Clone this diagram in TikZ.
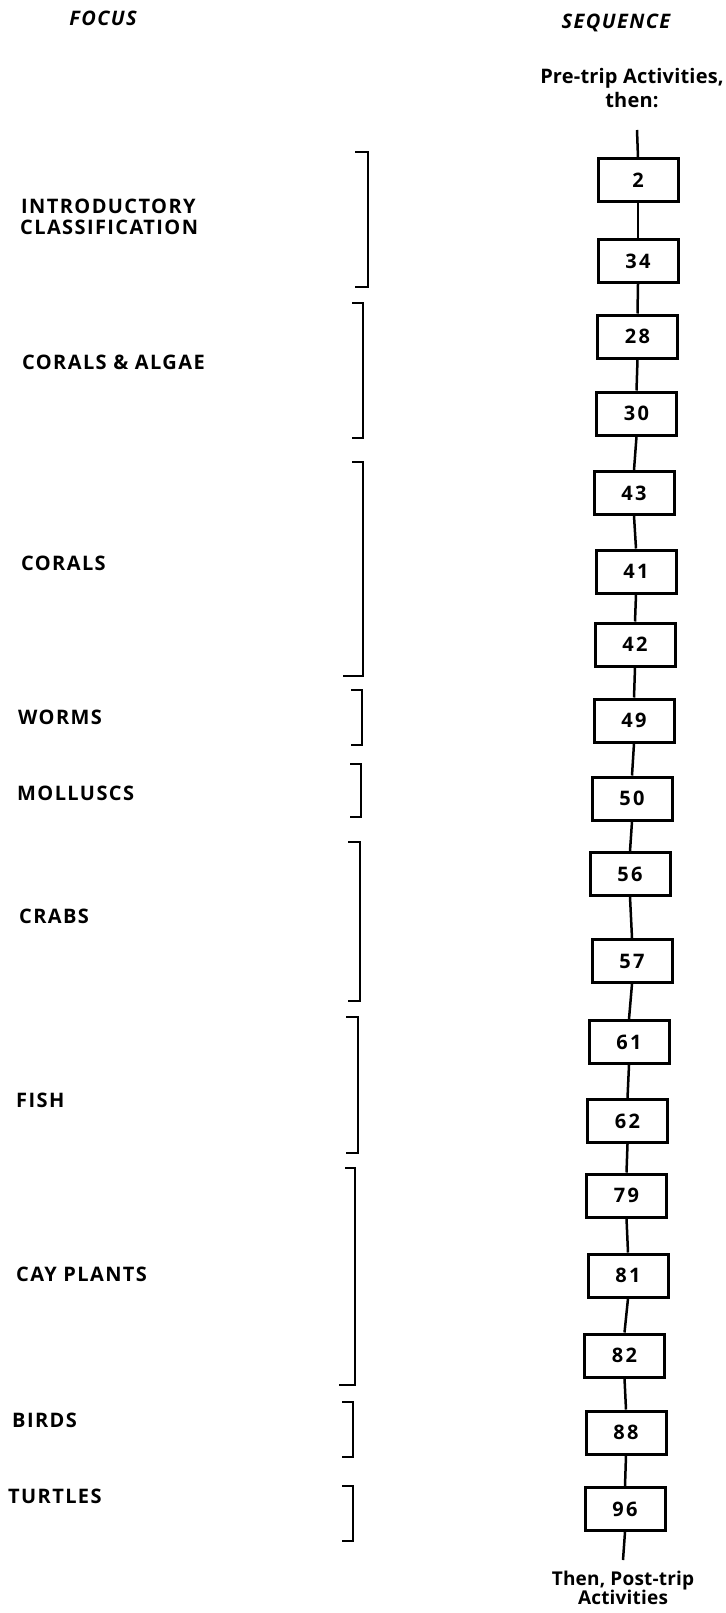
\documentclass[tikz,border=0pt]{standalone}
\usepackage{fontspec}
\setmainfont{Open Sans}
\newfontfamily\myLabFam{Open Sans}[LetterSpace=7]
\newfontfamily\myTripFam{Open Sans}[LetterSpace=1]
\newfontfamily\myNumFam{Open Sans}[LetterSpace=12]
\newcommand\myLab{\myLabFam\bfseries\fontsize{20}{22}\selectfont}
\newcommand\myNum{\myNumFam\bfseries\fontsize{20}{22}\selectfont}
\newcommand\myHead{\myLabFam\bfseries\itshape\fontsize{20}{22}\selectfont}
\newcommand\myTripA{\myTripFam\bfseries\fontsize{20}{24}\selectfont}
\newcommand\myTripB{\myTripFam\bfseries\fontsize{19}{19}\selectfont}
\begin{document}
\begin{tikzpicture}[x=1pt,y=-1pt,
  stepbox/.style={draw, line width=3pt, minimum width=80pt, minimum height=43pt, inner sep=0pt, font=\myNum},
  conn/.style={line width=2.5pt},
  brk/.style={line width=2.7pt},
  lab/.style={anchor=base west, inner sep=0pt, font=\myLab},
  head/.style={anchor=center, inner sep=0pt, font=\myHead},
  trip/.style={anchor=center, inner sep=0pt, align=center},
]
\useasboundingbox (0,0) rectangle (725,1613);

% headers
\node[head] (hfocus) at (103,18) {FOCUS};
\node[head] (hseq) at (616,23) {SEQUENCE};
\node[trip, font=\myTripA] (pre) at (632,88) {Pre-trip Activities,\\ then:};
\node[trip, font=\myTripB] (post) at (623,1588) {Then, Post-trip\\ Activities};

% focus labels
\node[lab] (lintro) at (21,214) {INTRODUCTORY};
\node[lab] (lclass) at (20,235) {CLASSIFICATION};
\node[lab] (lalgae) at (22,369) {CORALS \& ALGAE};
\node[lab] (lcorals) at (21,570) {CORALS};
\node[lab] (lworms) at (18,724) {WORMS};
\node[lab] (lmoll) at (17,800) {MOLLUSCS};
\node[lab] (lcrabs) at (19,923) {CRABS};
\node[lab] (lfish) at (16,1107) {FISH};
\node[lab] (lcay) at (16,1281) {CAY PLANTS};
\node[lab] (lbirds) at (12,1427) {BIRDS};
\node[lab] (lturt) at (8,1503) {TURTLES};

% brackets
\draw[brk] (355,152) -- (368,152) -- (368,287) -- (355,287);
\draw[brk] (352,303) -- (363,303) -- (363,438) -- (352,438);
\draw[brk] (352,462) -- (363,462) -- (363,676) -- (343,676);
\draw[brk] (351,690) -- (362,690) -- (362,745) -- (351,745);
\draw[brk] (350,764) -- (361,764) -- (361,817) -- (350,817);
\draw[brk] (348,842) -- (360,842) -- (360,1001) -- (348,1001);
\draw[brk] (346,1017) -- (358,1017) -- (358,1153) -- (346,1153);
\draw[brk] (345,1168) -- (355,1168) -- (355,1385) -- (339,1385);
\draw[brk] (342,1402) -- (353,1402) -- (353,1457) -- (342,1457);
\draw[brk] (342,1486) -- (353,1486) -- (353,1541) -- (342,1541);

% sequence boxes
\node[stepbox] (b2)  at (638,180.5) {2};
\node[stepbox] (b34) at (638,261) {34};
\node[stepbox] (b28) at (637.5,336.5) {28};
\node[stepbox] (b30) at (636.5,413.5) {30};
\node[stepbox] (b43) at (634,493) {43};
\node[stepbox] (b41) at (636,571.5) {41};
\node[stepbox] (b42) at (635,644.5) {42};
\node[stepbox] (b49) at (634,720.5) {49};
\node[stepbox] (b50) at (632,798.5) {50};
\node[stepbox] (b56) at (630,874) {56};
\node[stepbox] (b57) at (632,961) {57};
\node[stepbox] (b61) at (629,1042) {61};
\node[stepbox] (b62) at (627.5,1121) {62};
\node[stepbox] (b79) at (626.5,1195.5) {79};
\node[stepbox] (b81) at (628,1275.5) {81};
\node[stepbox] (b82) at (624.5,1355.5) {82};
\node[stepbox] (b88) at (626,1432.5) {88};
\node[stepbox] (b96) at (625,1509) {96};

\coordinate (top) at (637,130);
\coordinate (bot) at (623,1560);

% connectors
\draw[conn] (top) -- (b2.north);
\draw[conn] (b2.south) -- (b34.north);
\draw[conn] (b34.south) -- (b28.north);
\draw[conn] (b28.south) -- (b30.north);
\draw[conn] (b30.south) -- (b43.north);
\draw[conn] (b43.south) -- (b41.north);
\draw[conn] (b41.south) -- (b42.north);
\draw[conn] (b42.south) -- (b49.north);
\draw[conn] (b49.south) -- (b50.north);
\draw[conn] (b50.south) -- (b56.north);
\draw[conn] (b56.south) -- (b57.north);
\draw[conn] (b57.south) -- (b61.north);
\draw[conn] (b61.south) -- (b62.north);
\draw[conn] (b62.south) -- (b79.north);
\draw[conn] (b79.south) -- (b81.north);
\draw[conn] (b81.south) -- (b82.north);
\draw[conn] (b82.south) -- (b88.north);
\draw[conn] (b88.south) -- (b96.north);
\draw[conn] (b96.south) -- (bot);
\end{tikzpicture}
\end{document}
